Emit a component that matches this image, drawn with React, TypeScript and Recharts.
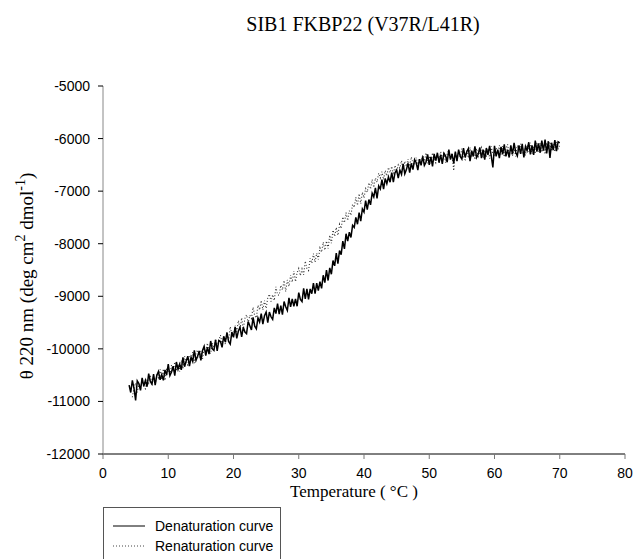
import { LineChart, Line, XAxis, YAxis } from "recharts";

// temperature (°C), one reading every quarter degree, one row per degree
const temperature = [
  4, 4.25, 4.5, 4.75, 5, 5.25, 5.5, 5.75, 6, 6.25, 6.5, 6.75, 7, 7.25, 7.5, 7.75,
  8, 8.25, 8.5, 8.75, 9, 9.25, 9.5, 9.75, 10, 10.25, 10.5, 10.75, 11, 11.25, 11.5, 11.75,
  12, 12.25, 12.5, 12.75, 13, 13.25, 13.5, 13.75, 14, 14.25, 14.5, 14.75, 15, 15.25, 15.5, 15.75,
  16, 16.25, 16.5, 16.75, 17, 17.25, 17.5, 17.75, 18, 18.25, 18.5, 18.75, 19, 19.25, 19.5, 19.75,
  20, 20.25, 20.5, 20.75, 21, 21.25, 21.5, 21.75, 22, 22.25, 22.5, 22.75, 23, 23.25, 23.5, 23.75,
  24, 24.25, 24.5, 24.75, 25, 25.25, 25.5, 25.75, 26, 26.25, 26.5, 26.75, 27, 27.25, 27.5, 27.75,
  28, 28.25, 28.5, 28.75, 29, 29.25, 29.5, 29.75, 30, 30.25, 30.5, 30.75, 31, 31.25, 31.5, 31.75,
  32, 32.25, 32.5, 32.75, 33, 33.25, 33.5, 33.75, 34, 34.25, 34.5, 34.75, 35, 35.25, 35.5, 35.75,
  36, 36.25, 36.5, 36.75, 37, 37.25, 37.5, 37.75, 38, 38.25, 38.5, 38.75, 39, 39.25, 39.5, 39.75,
  40, 40.25, 40.5, 40.75, 41, 41.25, 41.5, 41.75, 42, 42.25, 42.5, 42.75, 43, 43.25, 43.5, 43.75,
  44, 44.25, 44.5, 44.75, 45, 45.25, 45.5, 45.75, 46, 46.25, 46.5, 46.75, 47, 47.25, 47.5, 47.75,
  48, 48.25, 48.5, 48.75, 49, 49.25, 49.5, 49.75, 50, 50.25, 50.5, 50.75, 51, 51.25, 51.5, 51.75,
  52, 52.25, 52.5, 52.75, 53, 53.25, 53.5, 53.75, 54, 54.25, 54.5, 54.75, 55, 55.25, 55.5, 55.75,
  56, 56.25, 56.5, 56.75, 57, 57.25, 57.5, 57.75, 58, 58.25, 58.5, 58.75, 59, 59.25, 59.5, 59.75,
  60, 60.25, 60.5, 60.75, 61, 61.25, 61.5, 61.75, 62, 62.25, 62.5, 62.75, 63, 63.25, 63.5, 63.75,
  64, 64.25, 64.5, 64.75, 65, 65.25, 65.5, 65.75, 66, 66.25, 66.5, 66.75, 67, 67.25, 67.5, 67.75,
  68, 68.25, 68.5, 68.75, 69, 69.25, 69.5, 69.75, 70,
];

// heating scan, θ220 (deg cm2 dmol-1)
const denaturation = [
  -10690, -10830, -10600, -10750, -10980, -10610, -10660, -10790,
  -10550, -10710, -10600, -10720, -10470, -10620, -10670, -10480,
  -10690, -10500, -10430, -10590, -10490, -10600, -10400, -10500,
  -10290, -10510, -10440, -10330, -10510, -10250, -10390, -10290,
  -10400, -10160, -10340, -10230, -10140, -10330, -10160, -10240,
  -10030, -10220, -10140, -10040, -10220, -10030, -9950, -10130,
  -9970, -10100, -9850, -10000, -10030, -9830, -10040, -9840,
  -9860, -9970, -9760, -9870, -9690, -9860, -9910, -9680,
  -9780, -9580, -9800, -9660, -9590, -9770, -9590, -9680,
  -9710, -9480, -9560, -9640, -9400, -9570, -9620, -9410,
  -9490, -9330, -9530, -9370, -9300, -9500, -9300, -9390,
  -9440, -9220, -9330, -9140, -9340, -9180, -9350, -9100,
  -9200, -9270, -9030, -9200, -9050, -9190, -9050, -9190,
  -8930, -9060, -9100, -8850, -9050, -8860, -9060, -8860,
  -8950, -8750, -8950, -8750, -8890, -8720, -8850, -8600,
  -8740, -8500, -8700, -8460, -8580, -8320, -8420, -8180,
  -8380, -8130, -8210, -7950, -8100, -7810, -7950, -7780,
  -7880, -7650, -7690, -7500, -7630, -7410, -7570, -7340,
  -7400, -7180, -7350, -7160, -7260, -7040, -7110, -6940,
  -7140, -6900, -6960, -6780, -6960, -6760, -6860, -6730,
  -6830, -6650, -6830, -6650, -6600, -6750, -6600, -6680,
  -6480, -6670, -6590, -6470, -6650, -6470, -6590, -6400,
  -6460, -6600, -6390, -6510, -6340, -6510, -6450, -6300,
  -6500, -6350, -6530, -6290, -6420, -6270, -6460, -6310,
  -6480, -6280, -6330, -6450, -6210, -6400, -6290, -6470,
  -6250, -6430, -6210, -6340, -6390, -6180, -6360, -6250,
  -6190, -6430, -6230, -6340, -6150, -6360, -6300, -6170,
  -6370, -6210, -6400, -6180, -6310, -6140, -6330, -6550,
  -6140, -6340, -6210, -6370, -6160, -6300, -6110, -6340,
  -6210, -6360, -6130, -6300, -6080, -6260, -6330, -6130,
  -6290, -6100, -6360, -6150, -6230, -6070, -6300, -6130,
  -6310, -6040, -6250, -6090, -6270, -6040, -6230, -6020,
  -6280, -6050, -6370, -6080, -6220, -6030, -6240, -6060,
  -6080,
];

// cooling scan, θ220 (deg cm2 dmol-1)
const renaturation = [
  null, null, -10920, -10740, -10650, -10830, -10670, -10770,
  -10560, -10720, -10760, -10570, -10650, -10500, -10680, -10540,
  -10680, -10470, -10550, -10390, -10570, -10380, -10600, -10390,
  -10410, -10510, -10310, -10430, -10250, -10420, -10300, -10430,
  -10220, -10380, -10140, -10280, -10310, -10140, -10210, -10060,
  -10270, -10080, -10020, -10160, -10040, -10190, -9970, -10060,
  -9890, -10060, -10090, -9890, -9980, -9810, -9980, -9840,
  -9740, -9890, -9770, -9910, -9680, -9840, -9580, -9730,
  -9770, -9560, -9670, -9460, -9630, -9410, -9620, -9420,
  -9350, -9510, -9360, -9420, -9210, -9370, -9410, -9170,
  -9260, -9080, -9260, -9080, -9230, -9030, -8960, -9100,
  -8970, -9080, -8820, -8970, -8980, -8790, -8880, -8700,
  -8910, -8690, -8810, -8600, -8730, -8520, -8720, -8550,
  -8470, -8610, -8480, -8590, -8330, -8470, -8510, -8280,
  -8370, -8190, -8350, -8180, -8300, -8080, -8160, -7970,
  -8120, -7950, -8090, -7840, -7990, -7740, -7860, -7690,
  -7840, -7630, -7710, -7490, -7600, -7410, -7560, -7370,
  -7460, -7250, -7310, -7120, -7270, -7050, -7240, -7020,
  -7130, -6950, -7020, -6840, -6960, -6780, -6930, -6750,
  -6830, -6660, -6750, -6630, -6780, -6610, -6710, -6550,
  -6650, -6530, -6690, -6510, -6630, -6500, -6560, -6420,
  -6590, -6430, -6530, -6390, -6530, -6350, -6470, -6500,
  -6360, -6520, -6380, -6450, -6310, -6460, -6270, -6470,
  -6330, -6470, -6270, -6400, -6460, -6300, -6410, -6250,
  -6380, -6250, -6460, -6290, -6220, -6390, -6280, -6610,
  -6250, -6420, -6230, -6350, -6190, -6360, -6400, -6230,
  -6370, -6170, -6320, -6230, -6400, -6190, -6340, -6250,
  -6170, -6370, -6220, -6350, -6190, -6380, -6150, -6300,
  -6340, -6170, -6270, -6130, -6300, -6140, -6350, -6200,
  -6110, -6310, -6200, -6330, -6160, -6340, -6130, -6260,
  -6100, -6280, -6190, -6320, -6120, -6250, -6080, -6290,
  -6160, -6290, -6080, -6250, -6080, -6260, -6140, -6300,
  -6080, -6210, -6060, -6240, -6110, -6250, -6060, -6190,
  -6120,
];

const xTicks = [0, 10, 20, 30, 40, 50, 60, 70, 80];
const yTicks = [-12000, -11000, -10000, -9000, -8000, -7000, -6000, -5000];

const W = 633;
const H = 559;
const sans = "'Liberation Sans', Arial, sans-serif";
const serif = "'Liberation Serif', 'Times New Roman', serif";

export default function App() {
  const data = temperature.map((t, i) => ({ t, den: denaturation[i], ren: renaturation[i] }));

  return (
    <div style={{ position: "absolute", left: 0, top: 0, width: W, height: H, background: "#fff", overflow: "hidden" }}>
      <LineChart width={W} height={H} data={data} margin={{ top: 86, right: 8, bottom: 75, left: 43 }}>
        <XAxis
          dataKey="t"
          type="number"
          domain={[0, 80]}
          ticks={xTicks}
          height={30}
          tickSize={5}
          tickMargin={9}
          axisLine={{ stroke: "#000" }}
          tickLine={{ stroke: "#777" }}
          tick={{ fontSize: 14, fill: "#000", fontFamily: sans }}
        />
        <XAxis xAxisId="top" orientation="top" type="number" domain={[0, 80]} height={0} tick={false} tickLine={false} axisLine={{ stroke: "#888" }} />
        <YAxis
          type="number"
          domain={[-12000, -5000]}
          ticks={yTicks}
          width={60}
          tickSize={5}
          tickMargin={8}
          axisLine={{ stroke: "#888" }}
          tickLine={{ stroke: "#000" }}
          tick={{ fontSize: 14, fill: "#000", fontFamily: sans }}
        />
        <YAxis yAxisId="right" orientation="right" type="number" domain={[-12000, -5000]} width={0} tick={false} tickLine={false} axisLine={{ stroke: "#888" }} />
        <Line
          dataKey="ren"
          type="linear"
          stroke="#333"
          strokeWidth={1.1}
          strokeDasharray="1 2"
          dot={false}
          isAnimationActive={false}
        />
        <Line dataKey="den" type="linear" stroke="#000" strokeWidth={1.5} dot={false} isAnimationActive={false} />
      </LineChart>

      <svg width={W} height={H} style={{ position: "absolute", left: 0, top: 0, pointerEvents: "none" }}>
        <text x={363} y={31} textAnchor="middle" fontFamily={serif} fontSize={20} fill="#000">
          SIB1 FKBP22 (V37R/L41R)
        </text>
        <text x={354} y={497} textAnchor="middle" fontFamily={serif} fontSize={17} fill="#000">
          Temperature ( °C )
        </text>
        <text x={33} y={276} textAnchor="middle" transform="rotate(-90, 33, 276)" fontFamily={serif} fontSize={19} fill="#000">
          θ 220 nm (deg cm<tspan dy={-8} fontSize={14}>2</tspan>
          <tspan dy={8}> dmol</tspan>
          <tspan dy={-8} fontSize={14}>-1</tspan>
          <tspan dy={8}>)</tspan>
        </text>

        <rect x={103.5} y={507.5} width={177} height={70} fill="#fff" stroke="#555" />
        <line x1={113} x2={145} y1={526} y2={526} stroke="#000" />
        <text x={155} y={531} fontFamily={sans} fontSize={14} fill="#000">Denaturation curve</text>
        <line x1={113} x2={145} y1={546} y2={546} stroke="#444" strokeDasharray="1 2" />
        <text x={155} y={551} fontFamily={sans} fontSize={14} fill="#000">Renaturation curve</text>
      </svg>
    </div>
  );
}
